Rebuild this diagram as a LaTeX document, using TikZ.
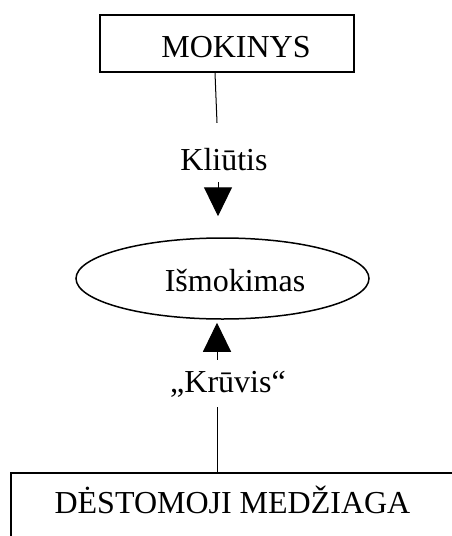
\documentclass[tikz,border=0pt]{standalone}
\usepackage{fontspec}
\setmainfont{Liberation Serif}
\usetikzlibrary{shapes.geometric,arrows.meta,calc}
\tikzset{
  boxnode/.style={draw,line width=1.6pt,rectangle,inner sep=0pt},
  ovalnode/.style={draw,line width=1.5pt,ellipse,inner sep=0pt},
  labelnode/.style={inner sep=0pt,text depth=0pt},
  link/.style={line width=1pt},
  arrowlink/.style={line width=1pt,-{Triangle[width=28pt,length=29pt]}}
}
\begin{document}
\begin{tikzpicture}[x=1pt,y=-1pt,font=\fontsize{32}{38}\selectfont]
\path[use as bounding box] (0,0) rectangle (452,536);
\clip (0,0) rectangle (452,536);
\node[boxnode,minimum width=254pt,minimum height=57pt,text height=27pt,text depth=0pt] (mok) at (227,43.5) {\hspace{18pt}MOKINYS};
\node[labelnode,text height=22pt,anchor=base] (kl) at (224,170) {Kliūtis};
\node[ovalnode,minimum width=293pt,minimum height=81pt,text height=25pt,text depth=0pt] (ism) at (222.5,278.5) {\hspace{25pt}Išmokimas};
\node[labelnode,text height=20pt,anchor=base] (kr) at (228,392) {„Krūvis“};
\node[boxnode,anchor=north,minimum width=443pt,text height=41pt,text depth=40pt] (dest) at (232.5,472) {DĖSTOMOJI MEDŽIAGA};
\draw[link] ($(mok.south)+(-12,0)$) -- ($(kl.north)+(-7,-25)$);
\draw[arrowlink] ($(kl.south)+(-6,12)$) -- ($(ism.north)+(-4.5,-21)$);
\draw[arrowlink] ($(kr.north)+(-11,-12)$) -- ($(ism.south)+(-5.5,3)$);
\draw[link] ($(kr.south)+(-11,15)$) -- ($(dest.north)+(-15.5,0)$);
\end{tikzpicture}
\end{document}
